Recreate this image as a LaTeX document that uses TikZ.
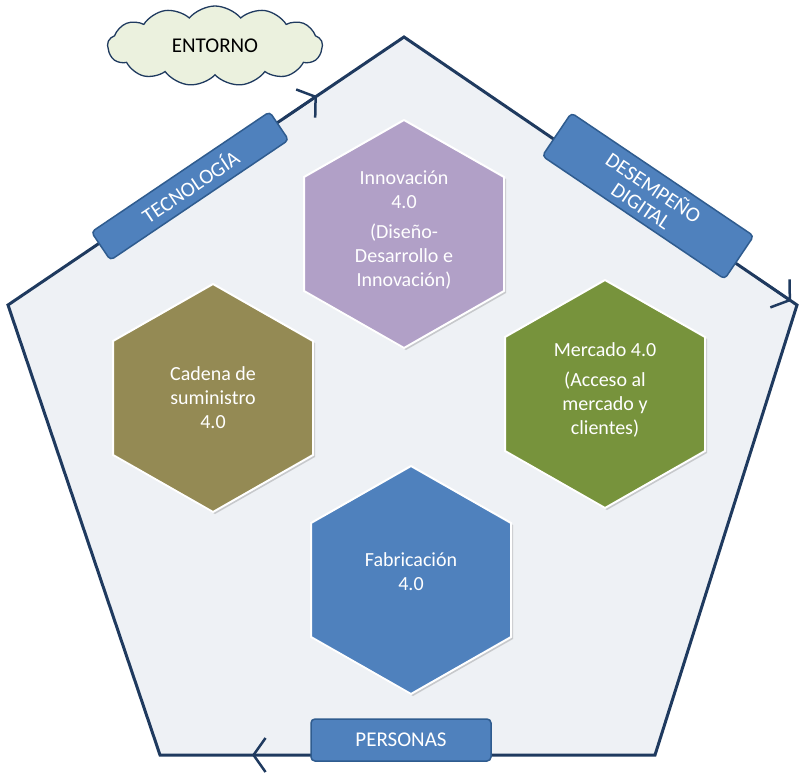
\documentclass[tikz,border=0pt]{standalone}
\usepackage{fontspec}
\setmainfont{Carlito}
\usetikzlibrary{arrows.meta,shapes.symbols,shadows,calc}
\definecolor{edge}{HTML}{1F3A5F}
\definecolor{penfill}{HTML}{EEF1F5}
\definecolor{lav}{HTML}{B1A0C7}
\definecolor{olive}{HTML}{948A54}
\definecolor{grn}{HTML}{77933C}
\definecolor{blu}{HTML}{4F81BD}
\definecolor{bluedge}{HTML}{2F5C8F}
\definecolor{cloudfill}{HTML}{EBF1DE}
\tikzset{
  hex/.style={fill=#1,draw=white,line width=2pt,drop shadow={opacity=0.35,shadow xshift=2pt,shadow yshift=-2pt}},
  hextext/.style={text=white,align=center,font=\fontsize{20}{24}\selectfont},
  lbl/.style={fill=blu,draw=bluedge,line width=1.5pt,rounded corners=4pt,text=white,font=\fontsize{21}{24}\selectfont,align=center,inner sep=4pt},
  chev/.style={draw=edge,line width=2.5pt,-{Straight Barb[length=12pt,width=34pt,line width=2.5pt]}}
}
\begin{document}
\begin{tikzpicture}[x=1pt,y=-1pt]
\useasboundingbox (0,0) rectangle (810,773);
% pentagon
\coordinate (pt) at (404,37);
\coordinate (pr) at (797,305);
\coordinate (pbr) at (655,755);
\coordinate (pbl) at (160,755);
\coordinate (pl) at (8,305);
\draw[edge,line width=3pt,fill=penfill] (pt)--(pr)--(pbr)--(pbl)--(pl)--cycle;
% chevrons
\coordinate (c1a) at ($(pl)!0.70!(pt)$);
\coordinate (c1b) at ($(pl)!0.78!(pt)$);
\draw[chev] (c1a)--(c1b);
\coordinate (c2a) at ($(pt)!0.90!(pr)$);
\coordinate (c2b) at ($(pt)!0.985!(pr)$);
\draw[chev] (c2a)--(c2b);
\coordinate (c3a) at (290,755);
\coordinate (c3b) at (252,755);
\draw[chev] (c3a)--(c3b);
% hexagons
\foreach \n/\cx/\cy/\col in {inn/404/234/lav, cad/213/398/olive, mer/605/394/grn, fab/411/580/blu}{
  \fill[hex=\col] (\cx,\cy-114)--(\cx+100,\cy-57)--(\cx+100,\cy+57)--(\cx,\cy+114)--(\cx-100,\cy+57)--(\cx-100,\cy-57)--cycle;
}
\node[hextext] (tinn) at (404,230) {Innovación\\4.0\\[6pt](Diseño-\\Desarrollo e\\Innovación)};
\node[hextext] (tcad) at (213,398) {Cadena de\\suministro\\4.0};
\node[hextext] (tmer) at (605,390) {Mercado 4.0\\[6pt](Acceso al\\mercado y\\clientes)};
\node[hextext] (tfab) at (411,572) {Fabricación\\4.0};
% labels
\node[lbl,rotate=34,minimum width=215pt,minimum height=34pt] (tec) at (190,186) {TECNOLOGÍA};
\node[lbl,rotate=-34,minimum width=220pt,minimum height=52pt,font=\fontsize{21}{22}\selectfont] (des) at (648,196) {DESEMPEÑO\\DIGITAL};
\node[lbl,minimum width=180pt,minimum height=42pt] (per) at (401,740) {PERSONAS};
% cloud
\node[cloud,cloud puffs=13,cloud puff arc=100,aspect=3,draw=edge,line width=1.3pt,fill=cloudfill,minimum width=215pt,minimum height=80pt,font=\fontsize{21}{24}\selectfont] (ent) at (215,46) {ENTORNO};
\end{tikzpicture}
\end{document}
